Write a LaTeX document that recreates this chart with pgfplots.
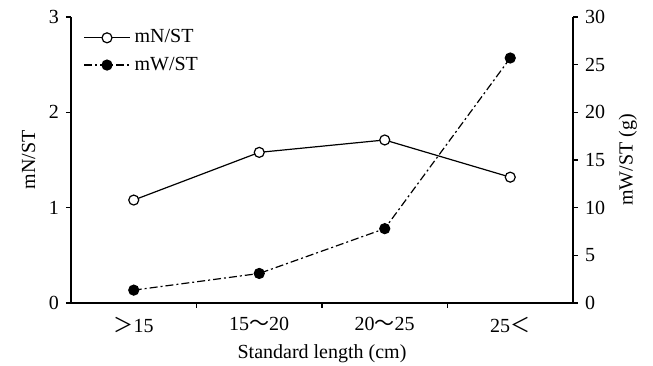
\documentclass[border=0pt]{standalone}
\usepackage{fontspec}
\setmainfont{Liberation Serif}
\newfontfamily\cjk{Noto Sans CJK JP}
\usepackage{pgfplots}
\pgfplotsset{compat=1.18}
\begin{document}
\begin{tikzpicture}
\useasboundingbox (-35.5pt,-31pt) rectangle (291pt,151.5pt);
\pgfplotsset{
  common/.style={
    at={(0,0)}, anchor=south west,
    scale only axis, width=251pt, height=143pt,
    xmin=-0.5, xmax=3.5,
    tick align=outside,
    major tick length=2.5pt,
    every tick/.style={black, line width=0.6pt},
    /pgf/number format/assume math mode=true,
    tick label style={font=\fontsize{10}{12}\selectfont},
    label style={font=\fontsize{10}{12}\selectfont},
    axis line style={line width=0.6pt},
  }
}
\begin{axis}[
  common,
  ymin=0, ymax=3,
  axis x line*=bottom, axis y line*=left,
  ytick={0,1,2,3},
  xtick={0,1,2,3},
  xticklabels={{\cjk ＞}15,15{\cjk ～}20,20{\cjk ～}25,25{\cjk ＜}},
  xtick style={draw=none},
  xticklabel style={yshift=-1pt},
  xlabel={Standard length (cm)},
  xlabel style={yshift=1pt},
  ylabel={mN/ST},
  legend style={at={(0.012,0.985)}, anchor=north west, draw=none, fill=none,
    font=\fontsize{10}{12}\selectfont, row sep=1.5pt},
  legend cell align=left,
  legend image code/.code={%
    \draw[mark repeat=2,mark phase=2,#1] plot coordinates {(0pt,0pt) (11.5pt,0pt) (23pt,0pt)};},
  after end axis/.code={%
    \draw[line width=0.6pt] (axis cs:0.5,0) -- ++(0,-2.5pt);
    \draw[line width=0.6pt] (axis cs:1.5,0) -- ++(0,-2.5pt);
    \draw[line width=0.6pt] (axis cs:2.5,0) -- ++(0,-2.5pt);},
]
\addplot[black, line width=0.6pt, mark=*, mark size=2.5pt,
  mark options={fill=white, solid}] coordinates {(0,1.08) (1,1.58) (2,1.71) (3,1.32)};
\addlegendentry{mN/ST}
\addlegendimage{black, line width=0.6pt, dash pattern=on 4pt off 1.5pt on 1pt off 1.5pt,
  mark=*, mark size=2.5pt, mark options={fill=black, solid}}
\addlegendentry{mW/ST}
\end{axis}
\begin{axis}[
  common,
  ymin=0, ymax=30,
  axis x line=none, axis y line*=right,
  ytick={0,5,10,15,20,25,30},
  ylabel={mW/ST (g)},
]
\addplot[black, line width=0.6pt, dash pattern=on 4pt off 1.5pt on 1pt off 1.5pt,
  mark=*, mark size=2.5pt, mark options={fill=black, solid}]
  coordinates {(0,1.35) (1,3.1) (2,7.8) (3,25.7)};
\end{axis}
\end{tikzpicture}
\end{document}
